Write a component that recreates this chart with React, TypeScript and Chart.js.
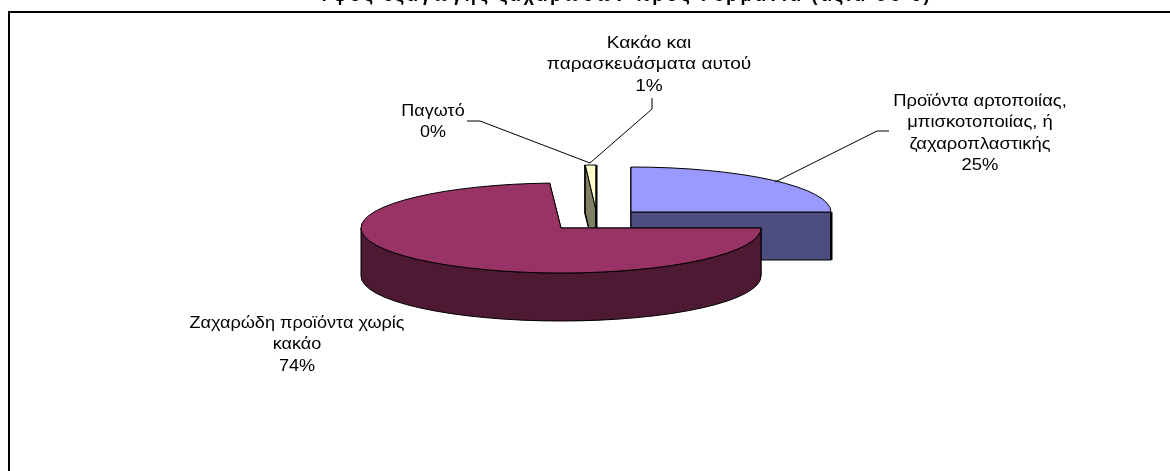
import React, { useEffect, useRef } from "react";
import { Chart, registerables } from "chart.js";

Chart.register(...registerables);

const categories = [
  "Προϊόντα αρτοποιίας, μπισκοτοποιίας, ή ζαχαροπλαστικής",
  "Ζαχαρώδη προϊόντα χωρίς κακάο",
  "Παγωτό",
  "Κακάο και παρασκευάσματα αυτού",
];
const values = [25, 74.1, 0.05, 0.85];
const chartTitle = "Ύψος εξαγωγής ζαχαρωδών προς Γερμανία (αξία σε €)";
const labelLines = [
  ["Προϊόντα αρτοποιίας,", "μπισκοτοποιίας, ή", "ζαχαροπλαστικής"],
  ["Ζαχαρώδη προϊόντα χωρίς", "κακάο"],
  ["Παγωτό"],
  ["Κακάο και", "παρασκευάσματα αυτού"],
];
const topColors = ["#9999FF", "#993366", "#FFFFCC", "#FFFFCC"];
const sideColors = ["#4D4D80", "#4D1933", "#808066", "#808066"];

// presentation of the tilted, exploded pie
const TILT = 0.225;
const DEPTH = 48;
const sliceShift: [number, number][] = [[70, -16], [0, 0], [35, -18], [35, -18]];
const drawOrder = [2, 3, 0, 1];
const labelPos: [number, number][] = [[980, 101], [297, 323], [433, 111], [649, 43]];
const labelStretch = [1.116, 1.097, 1.09, 1.157];
const LINE_H = 21.6;
const leaders: [number, number][][] = [
  [[889, 131], [877, 131], [775, 182]],
  [],
  [[467, 121], [480, 121], [590, 163]],
  [[652, 98], [652, 109], [590, 163]],
];
const FONT = '"Liberation Sans", Arial, sans-serif';

const pie3d = {
  id: "pie3d",
  beforeDatasetDraw(chart: any) {
    const ctx: CanvasRenderingContext2D = chart.ctx;
    const arcs = chart.getDatasetMeta(0).data;
    ctx.save();
    ctx.lineJoin = "round";
    for (const i of drawOrder) {
      const arc = arcs[i];
      const { x, y, startAngle: a0, endAngle: a1, outerRadius: R } = arc;
      const cx = x + sliceShift[i][0];
      const cy = y + sliceShift[i][1];
      const ry = R * TILT;
      const px = (a: number) => cx + R * Math.cos(a);
      const py = (a: number) => cy + ry * Math.sin(a);
      ctx.strokeStyle = "#000";
      ctx.lineWidth = 1;
      ctx.fillStyle = sideColors[i];

      // cut faces
      for (const a of [a0, a1]) {
        ctx.beginPath();
        ctx.moveTo(cx, cy);
        ctx.lineTo(px(a), py(a));
        ctx.lineTo(px(a), py(a) + DEPTH);
        ctx.lineTo(cx, cy + DEPTH);
        ctx.closePath();
        ctx.fill();
        ctx.stroke();
      }
      // outer wall, front half only
      const from = Math.max(a0, 0);
      const to = Math.min(a1, Math.PI);
      if (to > from) {
        ctx.beginPath();
        ctx.ellipse(cx, cy, R, ry, 0, from, to);
        ctx.lineTo(px(to), py(to) + DEPTH);
        ctx.ellipse(cx, cy + DEPTH, R, ry, 0, to, from, true);
        ctx.closePath();
        ctx.fill();
        ctx.stroke();
      }

      // top face: the library's own arc, flattened
      ctx.save();
      ctx.translate(cx, cy);
      ctx.scale(1, TILT);
      ctx.translate(-x, -y);
      arc.draw(ctx);
      ctx.restore();
      ctx.beginPath();
      ctx.moveTo(cx, cy);
      ctx.ellipse(cx, cy, R, ry, 0, a0, a1);
      ctx.closePath();
      ctx.stroke();

      // heavy right-hand edges
      if (i === 0 || i === 3) {
        ctx.lineWidth = 2;
        ctx.beginPath();
        ctx.moveTo(px(a1) + 0.5, py(a1));
        ctx.lineTo(px(a1) + 0.5, cy + DEPTH + (i === 3 ? 0 : py(a1) - cy));
        ctx.stroke();
      }
    }
    ctx.restore();
    return false;
  },
  afterDraw(chart: any) {
    const ctx: CanvasRenderingContext2D = chart.ctx;
    const total = values.reduce((s, v) => s + v, 0);
    ctx.save();
    // frame
    ctx.strokeStyle = "#000";
    ctx.lineWidth = 2;
    ctx.beginPath();
    ctx.moveTo(9, 471);
    ctx.lineTo(9, 12);
    ctx.lineTo(1170, 12);
    ctx.stroke();
    // title, cut by the top of the picture
    ctx.fillStyle = "#000";
    ctx.textAlign = "center";
    ctx.textBaseline = "alphabetic";
    ctx.font = `bold 18px ${FONT}`;
    (ctx as any).letterSpacing = "3px";
    ctx.fillText(chartTitle, 623, 1);
    (ctx as any).letterSpacing = "0px";
    // leaders
    ctx.lineWidth = 1;
    leaders.forEach((pts) => {
      if (!pts.length) return;
      ctx.beginPath();
      pts.forEach(([x, y], k) => (k ? ctx.lineTo(x, y) : ctx.moveTo(x, y)));
      ctx.stroke();
    });
    // labels
    ctx.font = `16.5px ${FONT}`;
    ctx.textBaseline = "middle";
    labelLines.forEach((lines, i) => {
      const [x, y] = labelPos[i];
      const all = [...lines, `${Math.round((values[i] / total) * 100)}%`];
      all.forEach((t, k) => {
        ctx.save();
        ctx.translate(x, y + k * LINE_H);
        ctx.scale(labelStretch[i], 1);
        ctx.fillText(t, 0, 0);
        ctx.restore();
      });
    });
    ctx.restore();
  },
};

export default function App() {
  const ref = useRef<HTMLCanvasElement>(null);
  useEffect(() => {
    const chart = new Chart(ref.current!, {
      type: "pie",
      data: {
        labels: categories,
        datasets: [
          {
            data: values,
            backgroundColor: topColors,
            borderWidth: 0,
            radius: 200,
          },
        ],
      },
      options: {
        responsive: false,
        animation: false,
        devicePixelRatio: 1,
        layout: { padding: { right: 48, bottom: 15 } },
        plugins: { legend: { display: false }, tooltip: { enabled: false }, title: { display: false } },
      },
      plugins: [pie3d],
    } as any);
    return () => chart.destroy();
  }, []);
  return (
    <div style={{ position: "absolute", left: 0, top: 0, width: 1170, height: 471, overflow: "hidden", background: "#fff" }}>
      <canvas ref={ref} width={1170} height={471} style={{ display: "block" }} />
    </div>
  );
}
